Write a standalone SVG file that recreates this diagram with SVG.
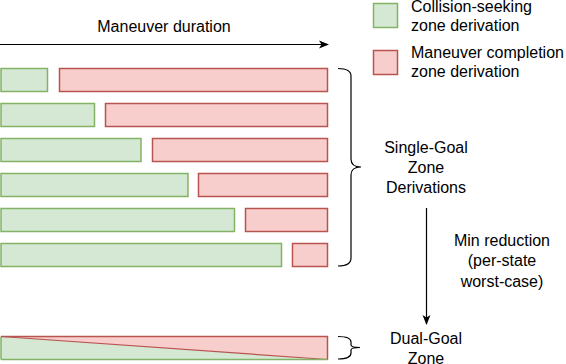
<svg xmlns="http://www.w3.org/2000/svg" width="566" height="364" viewBox="0 0 566 364">
<style>
text{font-family:"Liberation Sans",Arial,sans-serif;font-size:16px;fill:#000}
.g{fill:#d5e8d4;stroke:#82b366;stroke-width:1.5}
.r{fill:#f8cecc;stroke:#b85450;stroke-width:1.5}
.c{stroke:#000;stroke-width:1.2;fill:none}
.m{text-anchor:middle}
</style>
<defs>
<marker id="ah" viewBox="0 0 10 10" refX="9" refY="5" markerWidth="10" markerHeight="10" markerUnits="userSpaceOnUse" orient="auto">
<path d="M0,1 L10,5 L0,9 L2.5,5 Z" fill="#000"/>
</marker>
</defs>
<g id="title"><text class="m" x="164" y="32">Maneuver duration</text></g>
<g id="legend">
<rect class="g" x="373.5" y="3.5" width="24" height="24"/>
<text x="411" y="12">Collision-seeking</text>
<text x="411" y="31">zone derivation</text>
<rect class="r" x="373.5" y="50.5" width="24" height="24"/>
<text x="411" y="58">Maneuver completion</text>
<text x="411" y="77">zone derivation</text>
</g>
<g id="row1"><rect class="g" x="1" y="68.5" width="46.5" height="23"/><rect class="r" x="59.5" y="68.5" width="268" height="23"/></g>
<g id="row2"><rect class="g" x="1" y="103.5" width="93.5" height="23"/><rect class="r" x="105.5" y="103.5" width="222" height="23"/></g>
<g id="row3"><rect class="g" x="1" y="138.5" width="140" height="23"/><rect class="r" x="152.5" y="138.5" width="175" height="23"/></g>
<g id="row4"><rect class="g" x="1" y="173.5" width="187" height="23"/><rect class="r" x="198.5" y="173.5" width="129" height="23"/></g>
<g id="row5"><rect class="g" x="1" y="208.5" width="233.5" height="23"/><rect class="r" x="245.5" y="208.5" width="82" height="23"/></g>
<g id="row6"><rect class="g" x="1" y="243.5" width="280.5" height="23"/><rect class="r" x="292.5" y="243.5" width="35" height="23"/></g>
<g id="dual">
<polygon points="1,336.5 327.5,359.5 1,359.5" fill="#d5e8d4"/>
<polygon points="1,336.5 327.5,336.5 327.5,359.5" fill="#f8cecc"/>
<line x1="1" y1="336.5" x2="327.5" y2="359.5" stroke="#b85450" stroke-width="1.2"/>
<polyline points="1,359.5 327.5,359.5" stroke="#82b366" stroke-width="1.5" fill="none"/>
<line x1="1" y1="336.5" x2="1" y2="359.5" stroke="#82b366" stroke-width="1.5"/>
<polyline points="1,336.5 327.5,336.5 327.5,359.5" stroke="#b85450" stroke-width="1.5" fill="none"/>
</g>
<g id="single-label">
<text class="m" x="426" y="153">Single-Goal</text>
<text class="m" x="426" y="173">Zone</text>
<text class="m" x="426" y="193">Derivations</text>
</g>
<g id="min-label">
<text class="m" x="502" y="246">Min reduction</text>
<text class="m" x="502" y="266">(per-state</text>
<text class="m" x="502" y="287">worst-case)</text>
</g>
<g id="dual-label">
<text class="m" x="426" y="344">Dual-Goal</text>
<text class="m" x="426" y="364">Zone</text>
</g>
<g id="connectors">
<line class="c" x1="0" y1="44.5" x2="328" y2="44.5" marker-end="url(#ah)"/>
<line class="c" x1="426.5" y1="208" x2="426.5" y2="324" marker-end="url(#ah)"/>
<path class="c" d="M338,68.5 Q351,68.5 351,76 L351,159 Q351,167 361,167 Q351,167 351,175 L351,258 Q351,266 338,266"/>
<path class="c" d="M338,336.5 Q351,336.5 351,342 L351,345 Q351,347.5 360,347.5 Q351,347.5 351,350 L351,353 Q351,359 338,359"/>
</g>
</svg>
